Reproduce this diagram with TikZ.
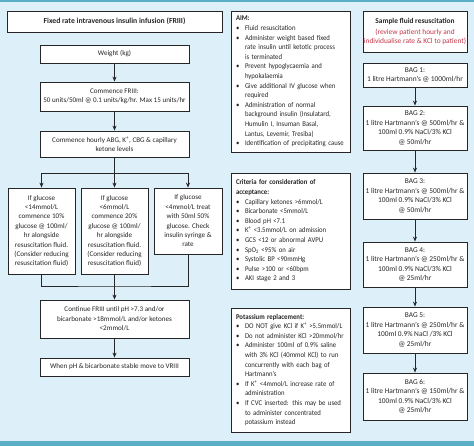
\documentclass[tikz,border=0pt]{standalone}
\usepackage{fontspec}
\setmainfont{Carlito}
\newfontfamily\narrowf{Carlito}[FakeStretch=0.92]
\usetikzlibrary{arrows.meta}
\definecolor{bgblue}{HTML}{DDEFF9}
\definecolor{bandcol}{HTML}{5AAFC6}
\definecolor{redtxt}{HTML}{C4374A}
\definecolor{ink}{HTML}{262626}
\newcommand{\bul}{\makebox[9pt][l]{\textbullet}}
\newcommand{\ind}{\hspace*{9pt}}
\begin{document}
\begin{tikzpicture}[x=1pt,y=-1pt,
  box/.style={draw=ink, line width=0.8pt, fill=white, text=ink,
    font=\fontsize{7.1}{9.4}\selectfont, align=center, inner sep=0pt},
  rbox/.style={box, font=\fontsize{7.4}{9.6}\selectfont},
  lbox/.style={box, align=left, text width=#1, inner xsep=5pt,
    font=\narrowf\fontsize{7.3}{9.6}\selectfont},
  ln/.style={draw=ink, line width=0.8pt},
  arr/.style={ln, -{Stealth[length=5pt,width=4pt]}}]
\fill[bgblue] (0,0) rectangle (474,446);
\fill[bandcol] (0,0) rectangle (474,2.5);
\fill[bandcol] (0,441) rectangle (474,446);

% left column
\node[box, minimum width=215, minimum height=21, font=\fontsize{7.7}{9}\selectfont\bfseries] (title) at (114.5,21.5)
  {Fixed rate intravenous insulin infusion (FRIII)};
\node[box, minimum width=149, minimum height=18] (weight) at (114.5,54) {Weight (kg)};
\node[box, minimum width=149, minimum height=29] (friii) at (114.5,96.5)
  {Commence FRIII:\\50 units/50ml @ 0.1 units/kg/hr. Max 15 units/hr};
\node[box, minimum width=149, minimum height=26] (hourly) at (114.5,144)
  {Commence hourly ABG, K\textsuperscript{+}, CBG \& capillary\\ketone levels};
\node[box, minimum width=67, minimum height=86] (g1) at (41.5,231)
  {If glucose\\<14mmol/L\\commence 10\%\\glucose @ 100ml/\\hr alongside\\resuscitation fluid.\\(Consider reducing\\resuscitation fluid)};
\node[box, minimum width=67, minimum height=86] (g2) at (114.5,231)
  {If glucose\\<6mmol/L\\commence 20\%\\glucose @ 100ml/\\hr alongside\\resuscitation fluid.\\(Consider reducing\\resuscitation fluid)};
\node[box, minimum width=68, minimum height=66] (g3) at (188,221)
  {If glucose\\<4mmol/L treat\\with 50ml 50\%\\glucose. Check\\insulin syringe \&\\rate};
\node[box, minimum width=149, minimum height=38] (cont) at (114.5,319)
  {Continue FRIII until pH >7.3 and/or\\bicarbonate >18mmol/L and/or ketones\\<2mmol/L};
\node[box, minimum width=149, minimum height=18] (when) at (114.5,367)
  {When pH \& bicarbonate stable move to VRIII};

\coordinate (split) at (114.5,173);
\coordinate (merge) at (114.5,286);
\draw[arr] (weight) -- (friii);
\draw[arr] (friii) -- (hourly);
\draw[arr] (hourly.south) -- (g2.north);
\draw[arr] (split) -| (g1.north);
\draw[arr] (split) -| (g3.north);
\draw[ln] (g1.south) |- (merge) -| (g3.south);
\draw[ln] (g2.south) -- (merge);
\draw[arr] (merge) -- (cont.north);
\draw[arr] (cont) -- (when);

% middle column
\node[lbox=109, minimum height=141] (aim) at (290.5,81.5)
  {\textbf{AIM:}\\
   \bul Fluid resuscitation\\
   \bul Administer weight based fixed\\
   \ind rate insulin until ketotic process\\
   \ind is terminated\\
   \bul Prevent hypoglycaemia and\\
   \ind hypokalaemia\\
   \bul Give additional IV glucose when\\
   \ind required\\
   \bul Administration of normal\\
   \ind background insulin (Insulatard,\\
   \ind Humulin I, Insuman Basal,\\
   \ind Lantus, Levemir, Tresiba)\\
   \bul Identification of precipitating cause};
\node[lbox=109, minimum height=116] (crit) at (290.5,231)
  {\textbf{Criteria for consideration of}\\
   \textbf{acceptance:}\\
   \bul Capillary ketones >6mmol/L\\
   \bul Bicarbonate <5mmol/L\\
   \bul Blood pH <7.1\\
   \bul K\textsuperscript{+} <3.5mmol/L on admission\\
   \bul GCS <12 or abnormal AVPU\\
   \bul SpO\textsubscript{2} <95\% on air\\
   \bul Systolic BP <90mmHg\\
   \bul Pulse >100 or <60bpm\\
   \bul AKI stage 2 and 3};
\node[lbox=109, minimum height=124] (pot) at (290.5,370)
  {\textbf{Potassium replacement:}\\
   \bul DO NOT give KCl if K\textsuperscript{+} >5.5mmol/L\\
   \bul Do not administer KCl >20mmol/hr\\
   \bul Administer 100ml of 0.9\% saline\\
   \ind with 3\% KCl (40mmol KCl) to run\\
   \ind concurrently with each bag of\\
   \ind Hartmann’s\\
   \bul If K\textsuperscript{+} <4mmol/L increase rate of\\
   \ind administration\\
   \bul If CVC inserted: this may be used\\
   \ind to administer concentrated\\
   \ind potassium instead};

% right column
\node[rbox, minimum width=104, minimum height=41] (sample) at (415,31.5)
  {\textbf{Sample fluid resuscitation}\\[1pt]
   \textcolor{redtxt}{(review patient hourly and}\\
   \textcolor{redtxt}{individualise rate \& KCl to patient)}};
\node[rbox, minimum width=104, minimum height=24] (bag1) at (415,75)
  {BAG 1:\\1 litre Hartmann’s @ 1000ml/hr};
\node[rbox, minimum width=104, minimum height=44] (bag2) at (415,128)
  {BAG 2:\\1 litre Hartmann’s @ 500ml/hr \&\\100ml 0.9\% NaCl/3\% KCl\\@ 50ml/hr};
\node[rbox, minimum width=104, minimum height=46] (bag3) at (415,196)
  {BAG 3:\\1 litre Hartmann’s @ 500ml/hr \&\\100ml 0.9\% NaCl/3\% KCl\\@ 50ml/hr};
\node[rbox, minimum width=104, minimum height=45] (bag4) at (415,264.5)
  {BAG 4:\\1 litre Hartmann’s @ 250ml/hr \&\\100ml 0.9\% NaCl/3\% KCl\\@ 25ml/hr};
\node[rbox, minimum width=104, minimum height=46] (bag5) at (415,330)
  {BAG 5:\\1 litre Hartmann’s @ 250ml/hr \&\\100ml 0.9\% NaCl /3\% KCl\\@ 25ml/hr};
\node[rbox, minimum width=104, minimum height=47] (bag6) at (415,396.5)
  {BAG 6:\\1 litre Hartmann’s @ 150ml/hr \&\\100ml 0.9\% NaCl/3\% KCl\\@ 25ml/hr};
\draw[arr] (bag1) -- (bag2);
\draw[arr] (bag2) -- (bag3);
\draw[arr] (bag3) -- (bag4);
\draw[arr] (bag4) -- (bag5);
\draw[arr] (bag5) -- (bag6);
\end{tikzpicture}
\end{document}
